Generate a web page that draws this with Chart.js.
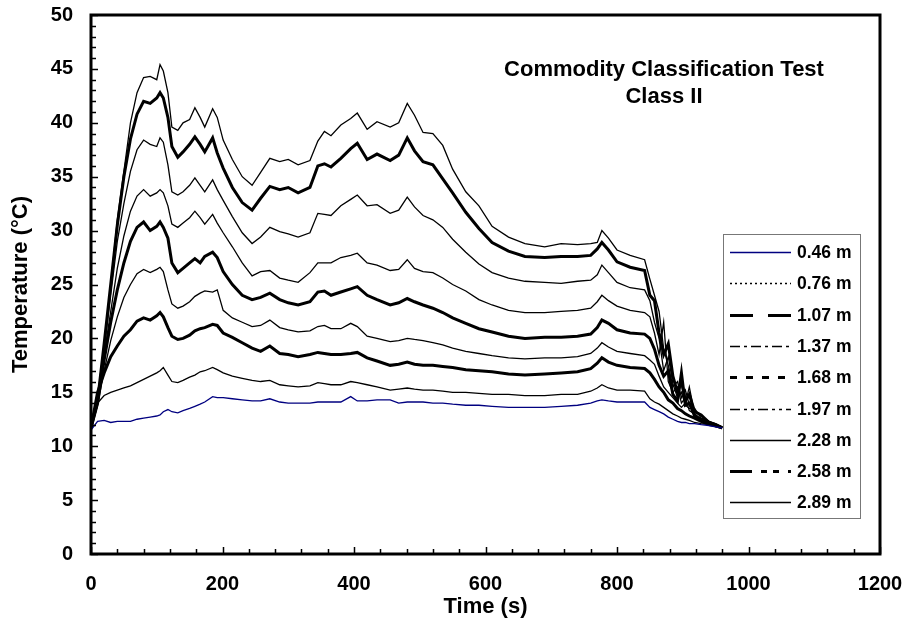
<!DOCTYPE html>
<html>
<head>
<meta charset="utf-8">
<title>Commodity Classification Test - Class II</title>
<script src="https://cdn.jsdelivr.net/npm/chart.js@4.4.1/dist/chart.umd.min.js"></script>
<style>
  html, body { margin: 0; padding: 0; background: #fff; }
  #wrap { width: 908px; height: 633px; }
</style>
</head>
<body>
<div id="wrap"><canvas id="tempChart" width="908" height="633"></canvas></div>
<script>
// Time (s), shared by all thermocouples
const times = [0,10,20,30,40,50,60,70,80,90,
  100,105,110,117,123,132,140,150,158,166,
  173,185,192,201,215,230,245,258,272,287,
  300,315,333,345,355,365,380,395,405,420,
  435,455,468,481,492,505,520,535,550,570,
  590,610,635,660,690,715,740,760,770,777,
  787,800,820,
  842,850,857,864,871,878,885,892,898,904,910,918,928,940,950,960]

// Temperatures (°C) at each height
const t046 = [11.5,12.3,12.4,12.2,12.3,12.3,12.3,12.5,12.6,12.7,
  12.8,12.9,13.2,13.4,13.2,13.1,13.3,13.5,13.7,13.9,
  14.1,14.6,14.5,14.5,14.4,14.3,14.2,14.2,14.4,14.1,
  14.0,14.0,14.0,14.1,14.1,14.1,14.1,14.6,14.2,14.2,
  14.3,14.3,14.0,14.1,14.1,14.1,14.0,14.0,13.9,13.8,
  13.8,13.7,13.6,13.6,13.6,13.7,13.8,14.0,14.2,14.3,
  14.2,14.1,14.1,
  14.1,13.6,13.4,13.2,13.0,12.7,12.5,12.3,12.2,12.2,12.1,12.1,12.0,11.9,11.8,11.7]
const t076 = [11.7,14.0,14.7,15.0,15.2,15.4,15.6,15.9,16.2,16.5,
  16.8,17.0,17.3,16.6,16.0,15.9,16.1,16.4,16.6,16.9,
  17.0,17.3,17.1,16.8,16.5,16.3,16.1,16.0,16.1,15.7,
  15.6,15.5,15.6,15.9,15.8,15.7,15.7,16.0,15.9,15.7,
  15.5,15.2,15.3,15.4,15.3,15.2,15.2,15.1,15.0,15.0,
  14.9,14.8,14.8,14.7,14.7,14.8,14.8,15.1,15.4,15.7,
  15.4,15.2,15.2,
  15.1,14.4,14.1,13.9,13.6,13.3,13.0,12.8,12.6,12.5,12.4,12.2,12.1,12.0,11.9,11.7]
const t107 = [11.7,15.0,16.8,18.3,19.3,20.2,20.8,21.6,21.9,21.7,
  22.1,22.4,22.0,21.0,20.2,19.9,20.0,20.3,20.7,20.9,
  21.0,21.3,21.2,20.5,20.1,19.6,19.1,18.8,19.3,18.6,
  18.5,18.3,18.5,18.7,18.6,18.5,18.5,18.6,18.7,18.2,
  17.9,17.5,17.6,17.8,17.6,17.5,17.5,17.4,17.3,17.1,
  17.0,16.9,16.7,16.6,16.7,16.8,16.9,17.2,17.7,18.2,
  17.8,17.5,17.3,
  17.2,16.8,16.2,15.5,15.0,14.3,14.0,13.5,13.3,13.0,12.8,12.6,12.3,12.0,11.9,11.7]
const t137 = [11.7,13.8,17.0,19.8,22.0,23.8,25.0,26.0,26.4,26.1,
  26.4,26.6,26.2,24.5,23.2,22.8,23.0,23.4,23.9,24.2,
  24.4,24.3,24.5,22.6,21.9,21.5,21.1,21.2,21.7,21.0,
  20.8,20.6,20.7,21.1,21.2,20.9,20.9,21.4,21.1,20.2,
  20.0,19.7,19.8,20.0,19.9,19.8,19.6,19.4,19.1,18.8,
  18.6,18.4,18.2,18.1,18.2,18.2,18.3,18.6,19.1,19.6,
  19.2,18.8,18.6,
  18.4,18.0,17.6,16.5,15.5,15.0,14.5,14.0,13.6,14.0,15.5,13.0,12.4,12.1,11.9,11.7]
const t168 = [11.7,14.0,18.0,21.5,24.5,27.0,29.0,30.3,30.8,30.0,
  30.4,30.8,30.3,29.3,27.0,26.1,26.5,27.0,27.4,27.0,
  27.6,28.0,27.5,26.2,25.0,24.0,23.6,23.8,24.2,23.6,
  23.3,23.1,23.4,24.3,24.4,24.0,24.3,24.6,24.8,24.0,
  23.6,23.1,23.3,23.7,23.4,23.1,22.8,22.4,21.9,21.4,
  20.9,20.6,20.2,20.0,20.1,20.1,20.2,20.4,21.0,21.7,
  21.4,20.8,20.5,
  20.4,20.0,19.0,17.5,16.5,17.0,14.8,14.2,16.8,13.8,14.0,12.8,12.5,12.1,11.9,11.7]
const t197 = [11.7,14.0,18.5,22.5,26.5,29.5,31.8,33.2,33.8,33.2,
  33.5,33.8,33.5,32.3,30.6,30.3,30.7,31.2,31.8,31.2,
  30.6,31.5,30.7,29.8,28.5,27.0,25.8,26.2,26.3,25.6,
  25.4,25.2,26.1,27.0,27.0,27.0,27.5,27.7,27.9,27.0,
  26.8,26.3,26.4,27.3,26.5,26.2,26.1,25.6,25.0,24.4,
  23.6,23.1,22.6,22.4,22.4,22.5,22.6,22.8,23.4,24.0,
  23.5,23.0,22.6,
  22.4,22.0,20.5,18.5,21.5,16.0,15.0,15.5,14.0,14.5,13.3,13.0,12.5,12.2,12.0,11.8]
const t228 = [11.7,14.0,19.0,24.0,29.0,32.5,35.5,37.5,38.4,38.0,
  37.8,38.6,38.2,36.1,33.6,33.3,33.6,34.2,34.9,34.2,
  33.6,34.7,33.8,32.8,31.3,29.8,28.8,29.4,30.3,29.9,
  29.7,29.4,29.8,31.6,31.5,31.4,32.3,32.9,33.3,32.3,
  32.4,31.6,31.9,33.1,32.2,31.4,31.0,30.3,29.2,28.0,
  26.9,26.1,25.6,25.3,25.2,25.1,25.3,25.4,25.9,26.8,
  26.1,25.2,24.7,
  24.5,23.5,21.5,20.0,17.0,18.3,15.8,14.5,15.0,13.8,13.5,13.5,12.6,12.3,12.1,11.8]
const t258 = [11.7,14.2,19.5,25.0,30.5,35.0,38.5,40.8,42.0,41.8,
  42.3,42.8,42.3,40.5,37.8,36.8,37.3,38.0,38.7,38.0,
  37.3,38.6,37.2,35.8,34.0,32.6,31.9,33.0,34.1,33.8,
  34.0,33.5,34.0,36.0,36.2,35.9,36.7,37.6,38.1,36.6,
  37.1,36.5,37.0,38.6,37.4,36.4,36.1,34.8,33.5,31.7,
  30.2,28.9,28.1,27.6,27.5,27.6,27.6,27.7,28.3,28.9,
  28.2,27.1,26.6,
  26.3,24.0,23.5,20.5,18.5,19.5,16.5,15.0,16.0,14.2,14.8,13.2,12.9,12.2,12.0,11.7]
const t289 = [11.7,14.5,19.5,25.0,31.0,35.5,40.0,42.8,44.2,44.3,
  44.0,45.4,44.8,42.8,39.6,39.3,40.0,40.3,41.4,40.5,
  39.6,41.3,40.5,38.4,36.6,35.0,34.2,35.4,36.7,36.4,
  36.6,36.1,36.5,38.3,39.2,38.8,39.8,40.4,40.9,39.4,
  40.1,39.6,40.0,41.8,40.7,39.1,39.0,37.9,35.7,33.6,
  32.3,30.4,29.4,28.8,28.5,28.8,28.7,28.8,28.9,30.0,
  29.3,28.2,27.7,
  27.3,25.5,24.0,22.5,19.0,17.5,15.5,16.0,14.5,15.2,13.8,13.3,12.8,12.3,12.0,11.8]

const seriesLabels = ["0.46 m", "0.76 m", "1.07 m", "1.37 m", "1.68 m", "1.97 m", "2.28 m", "2.58 m", "2.89 m"]
const seriesValues = [t046, t076, t107, t137, t168, t197, t228, t258, t289]

// tick labels
const xTickValues = [0, 200, 400, 600, 800, 1000, 1200]
const yTickValues = [0, 5, 10, 15, 20, 25, 30, 35, 40, 45, 50]

// line looks, in the same order as the labels
const lineColors = ["#000080", "#000", "#000", "#000", "#000", "#000", "#000", "#000", "#000"]
const lineWidths = [1.3, 1.3, 3, 1.3, 3, 1.3, 1.3, 3, 1.3]
const legendDashes = [[], [2, 3], [23, 15], [10, 4, 3, 4], [7, 9], [10, 4, 3, 4, 3, 4], [], [22, 9, 6, 6, 6, 9], []]

const FONT = '"Liberation Sans", Arial, sans-serif'

const datasets = seriesLabels.map((label, i) => ({
  label: label,
  data: times.map((t, k) => ({ x: t, y: seriesValues[i][k] })),
  borderColor: lineColors[i],
  borderWidth: lineWidths[i],
  pointRadius: 0,
  tension: 0,
  fill: false,
}))

// keep tick label overhang from shrinking the plot area
function noScalePadding(scale) {
  scale.paddingTop = 0
  scale.paddingBottom = 0
  scale.paddingLeft = 0
  scale.paddingRight = 0
}

// frame round the plot and the inward tick marks
const frameTicks = {
  id: "frameTicks",
  afterDatasetsDraw(chart) {
    const { ctx, chartArea: a, scales } = chart
    ctx.save()
    ctx.strokeStyle = "#000"
    ctx.lineWidth = 1.5
    ctx.beginPath()
    for (let v = 0; v <= 1200; v += 40) {
      const px = Math.round(scales.x.getPixelForValue(v)) + 0.5
      const len = v % 200 === 0 ? 7 : 5
      ctx.moveTo(px, a.bottom)
      ctx.lineTo(px, a.bottom - len)
    }
    for (let v = 0; v <= 50; v += 1) {
      const py = Math.round(scales.y.getPixelForValue(v)) + 0.5
      const len = v % 5 === 0 ? 7 : 5
      ctx.moveTo(a.left, py)
      ctx.lineTo(a.left + len, py)
    }
    ctx.stroke()
    ctx.lineWidth = 3
    ctx.strokeRect(a.left, a.top, a.right - a.left, a.bottom - a.top)
    ctx.restore()
  },
}

// chart heading inside the plot
const plotHeading = {
  id: "plotHeading",
  afterDraw(chart) {
    const { ctx } = chart
    ctx.save()
    ctx.fillStyle = "#000"
    ctx.font = "bold 22px " + FONT
    ctx.textAlign = "center"
    ctx.textBaseline = "middle"
    ctx.fillText("Commodity Classification Test", 664, 70)
    ctx.fillText("Class II", 664, 97)
    ctx.restore()
  },
}

// boxed legend drawn inside the plot, right side
const boxLegend = {
  id: "boxLegend",
  afterDraw(chart) {
    const { ctx } = chart
    const left = 723, top = 234, w = 137, h = 284
    ctx.save()
    ctx.fillStyle = "#fff"
    ctx.fillRect(left, top, w, h)
    ctx.strokeStyle = "#777"
    ctx.lineWidth = 1
    ctx.strokeRect(left + 0.5, top + 0.5, w, h)
    ctx.font = "bold 17.5px " + FONT
    ctx.textBaseline = "middle"
    chart.data.datasets.forEach((ds, i) => {
      const yy = Math.round(top + 18 + i * 31.3) + 0.5
      ctx.strokeStyle = ds.borderColor
      ctx.lineWidth = ds.borderWidth
      ctx.setLineDash(legendDashes[i])
      ctx.beginPath()
      ctx.moveTo(730, yy)
      ctx.lineTo(791, yy)
      ctx.stroke()
      ctx.setLineDash([])
      ctx.fillStyle = "#000"
      ctx.fillText(ds.label, 797, yy + 1)
    })
    ctx.restore()
  },
}

new Chart(document.getElementById("tempChart"), {
  type: "line",
  data: { datasets: datasets },
  options: {
    responsive: false,
    animation: false,
    devicePixelRatio: 1,
    layout: { padding: { left: 0, right: 28, top: 15, bottom: 0 } },
    plugins: {
      legend: { display: false },
      tooltip: { enabled: false },
    },
    scales: {
      x: {
        type: "linear",
        min: 0,
        max: 1200,
        afterBuildTicks: (scale) => { scale.ticks = xTickValues.map((v) => ({ value: v })) },
        afterFit: (scale) => { scale.height = 79; noScalePadding(scale) },
        grid: { display: false, drawTicks: false },
        border: { display: false },
        ticks: {
          color: "#000",
          padding: 18,
          maxRotation: 0,
          callback: (v) => String(v),
          font: { family: FONT, size: 20, weight: "bold" },
        },
        title: {
          display: true,
          text: "Time (s)",
          color: "#000",
          padding: { top: 0, bottom: 13 },
          font: { family: FONT, size: 22, weight: "bold" },
        },
      },
      y: {
        type: "linear",
        min: 0,
        max: 50,
        afterBuildTicks: (scale) => { scale.ticks = yTickValues.map((v) => ({ value: v })) },
        afterFit: (scale) => { scale.width = 91; noScalePadding(scale) },
        grid: { display: false, drawTicks: false },
        border: { display: false },
        ticks: {
          color: "#000",
          padding: 18,
          callback: (v) => String(v),
          font: { family: FONT, size: 20, weight: "bold" },
        },
        title: {
          display: true,
          text: "Temperature (°C)",
          color: "#000",
          padding: { top: 8, bottom: 0 },
          font: { family: FONT, size: 22, weight: "bold" },
        },
      },
    },
  },
  plugins: [frameTicks, plotHeading, boxLegend],
})
</script>
</body>
</html>
